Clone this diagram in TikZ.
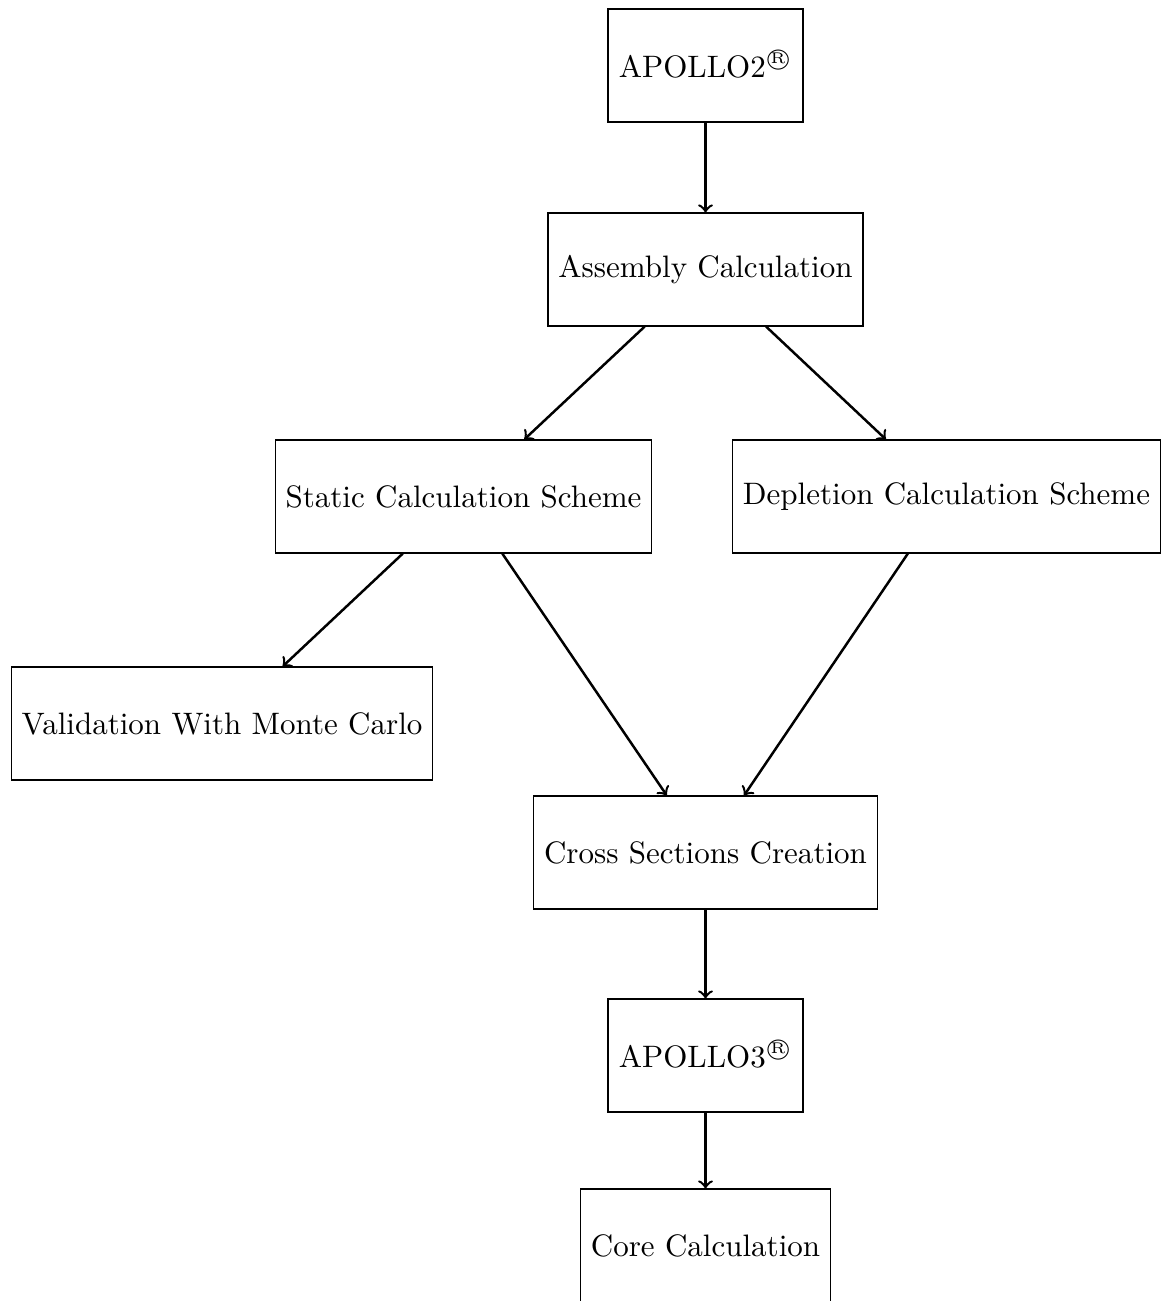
\documentclass[tikz,border=0pt]{standalone}
\newcommand\myregmark{\textsuperscript{\ooalign{\hfil\raise.2ex\hbox{\fontsize{5}{5}\selectfont R}\hfil\crcr$\bigcirc$}}}
\begin{document}
\begin{tikzpicture}[x=0.3224pt,y=-0.3224pt,
  box/.style={draw,rectangle,minimum height=36.4pt,inner sep=3.33pt,line width=0.4pt},
  conn/.style={->,line width=0.8pt}]
\useasboundingbox (0,0) rectangle (1163,1301);
\node[box,minimum width=62.9pt] (ap2) at (705.5,65.5) {APOLLO2\myregmark};
\node[box] (asm) at (705.5,269.5) {Assembly Calculation};
\node[box] (sta) at (463.5,496.5) {Static Calculation Scheme};
\node[box] (dep) at (946.5,496.5) {Depletion Calculation Scheme};
\node[box] (val) at (222,723.5) {Validation With Monte Carlo};
\node[box] (xs) at (705.5,852.5) {Cross Sections Creation};
\node[box,minimum width=62.9pt] (ap3) at (705.5,1055.5) {APOLLO3\myregmark};
\node[box] (core) at (705.5,1245.5) {Core Calculation};
\draw[conn] (ap2) -- (asm);
\draw[conn] (asm) -- (sta);
\draw[conn] (asm) -- (dep);
\draw[conn] (sta) -- (val);
\draw[conn] (sta) -- (xs);
\draw[conn] (dep) -- (xs);
\draw[conn] (xs) -- (ap3);
\draw[conn] (ap3) -- (core);
\end{tikzpicture}
\end{document}
